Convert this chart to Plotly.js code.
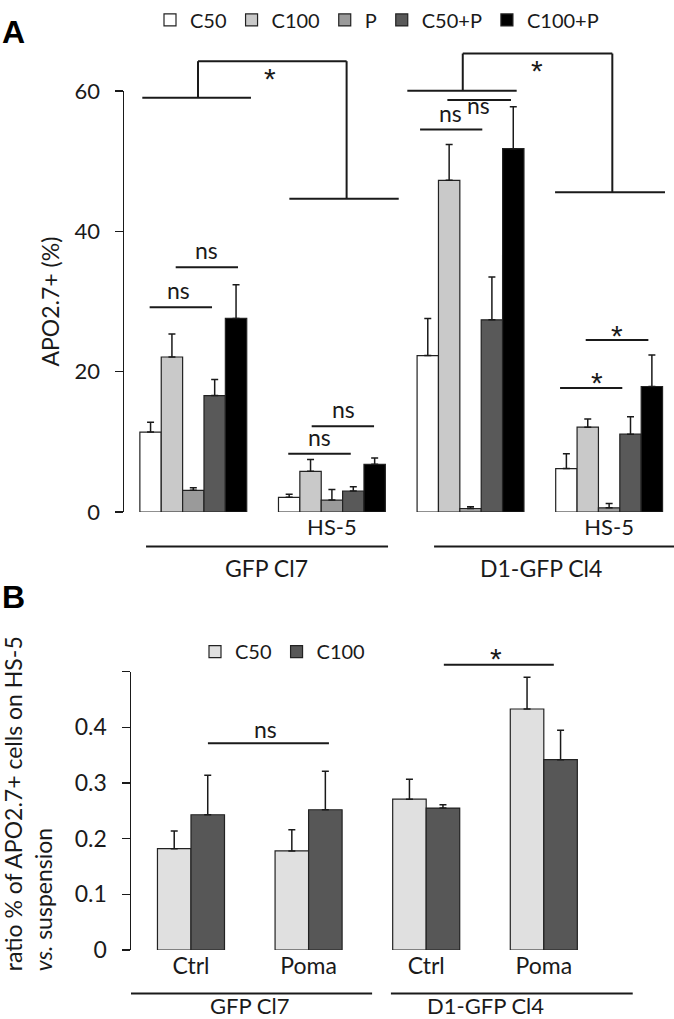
<!DOCTYPE html>
<html><head><meta charset="utf-8">
<script src="https://cdn.plot.ly/plotly-3.0.1.min.js"></script>
<style>html,body{margin:0;padding:0;background:#fff}#chart{width:674px;height:1019px}</style>
</head><body><div id="chart"></div>
<script>
// ---------- DATA: panel A (APO2.7+ %) ----------
const xA = [0, 1, 2, 3];
const tickTextA = ['', 'HS-5', '', 'HS-5'];
const namesA = ['C50', 'C100', 'P', 'C50+P', 'C100+P'];
const aC50      = [11.4, 2.1, 22.3, 6.2];
const aC50Err   = [1.4, 0.45, 5.3, 2.1];
const aC100     = [22.1, 5.8, 47.3, 12.1];
const aC100Err  = [3.3, 1.7, 5.1, 1.15];
const aP        = [3.1, 1.7, 0.5, 0.6];
const aPErr     = [0.35, 1.5, 0.25, 0.6];
const aC50P     = [16.6, 3.0, 27.4, 11.1];
const aC50PErr  = [2.3, 0.6, 6.1, 2.5];
const aC100P    = [27.6, 6.8, 51.8, 17.9];
const aC100PErr = [4.8, 0.9, 6.0, 4.5];
const yTicksA = [0, 20, 40, 60];

// ---------- DATA: panel B (ratio HS-5 vs suspension) ----------
const xB = [0, 1, 2, 3];
const tickTextB = ['Ctrl', 'Poma', 'Ctrl', 'Poma'];
const namesB = ['C50', 'C100'];
const bC50     = [0.182, 0.178, 0.271, 0.433];
const bC50Err  = [0.032, 0.038, 0.036, 0.057];
const bC100    = [0.243, 0.252, 0.255, 0.342];
const bC100Err = [0.071, 0.069, 0.006, 0.053];
const yTicksB = [0, 0.1, 0.2, 0.3, 0.4, 0.5];
const yTickTextB = ['0', '0.1', '0.2', '0.3', '0.4', ''];

const cellLines = ['GFP Cl7', 'D1-GFP Cl4'];

// ---------- STYLE ----------
const FONT = 'Lato, "Open Sans", sans-serif';
const STAR_FONT = '"Liberation Sans", Arial, sans-serif';
const INK = '#1a1a1a';
const colorsA = ['#ffffff', '#c9c9c9', '#9a9a9a', '#595959', '#000000'];
const colorsB = ['#e0e0e0', '#575757'];
const H = 1019, W = 674;
const A_DOM = [1 - 507 / H, 1 - 82 / H];
const B_DOM = [1 - 949.3 / H, 1 - 668.3 / H];
const A_MAX = 60, B_MAX = 0.5;
const pA = v => A_DOM[0] + v / A_MAX * (A_DOM[1] - A_DOM[0]);
const pB = v => B_DOM[0] + v / B_MAX * (B_DOM[1] - B_DOM[0]);
const pxY = px => 1 - px / H;

function errY(arr) {
  return {type: 'data', symmetric: false, array: arr, arrayminus: arr.map(() => 0),
          color: INK, thickness: 1.5, width: 3.5};
}

const seriesA = [aC50, aC100, aP, aC50P, aC100P];
const errsA = [aC50Err, aC100Err, aPErr, aC50PErr, aC100PErr];
const traces = [];
seriesA.forEach((vals, i) => {
  traces.push({
    type: 'bar', x: xA, y: vals, name: namesA[i], xaxis: 'x', yaxis: 'y',
    marker: {color: colorsA[i], line: {color: '#222', width: 1.2}},
    error_y: errY(errsA[i]), legend: 'legend'
  });
});
const seriesB = [bC50, bC100];
const errsB = [bC50Err, bC100Err];
const BW = 0.285;
seriesB.forEach((vals, i) => {
  traces.push({
    type: 'bar', x: xB, y: vals, name: namesB[i], xaxis: 'x2', yaxis: 'y2',
    width: BW, offset: -BW + i * BW,
    marker: {color: colorsB[i], line: {color: '#222', width: 1.2}},
    error_y: errY(errsB[i]), legend: 'legend2'
  });
});

// ---------- ANNOTATION GEOMETRY ----------
const LW = 2;
const shapes = [];
const annotations = [];
function hline(xref, x0, x1, y) {
  shapes.push({type: 'line', xref: xref, yref: 'paper', x0: x0, x1: x1, y0: y, y1: y,
               line: {color: INK, width: LW}});
}
function vline(xref, x, y0, y1) {
  shapes.push({type: 'line', xref: xref, yref: 'paper', x0: x, x1: x, y0: y0, y1: y1,
               line: {color: INK, width: LW}});
}
function label(xref, x, y, text, size) {
  const star = text === '*';
  annotations.push({xref: xref, yref: 'paper', x: x, y: y, text: text, showarrow: false,
                    xanchor: 'center', yanchor: 'middle',
                    font: {size: star ? 30 : (size || 23), color: INK, family: star ? STAR_FONT : FONT}});
}

// small comparison bars, panel A
const cmpA = [
  {x0: -0.315, x1: 0.135, y: 29.2, tx: -0.11, ty: 31.6, t: 'ns'},
  {x0: -0.127, x1: 0.3225, y: 34.9, tx: 0.097, ty: 37.3, t: 'ns'},
  {x0: 0.685, x1: 1.136, y: 8.3, tx: 0.907, ty: 10.7, t: 'ns'},
  {x0: 0.854, x1: 1.304, y: 12.24, tx: 1.082, ty: 14.7, t: 'ns'},
  {x0: 1.636, x1: 2.085, y: 54.54, tx: 1.852, ty: 56.9, t: 'ns'},
  {x0: 1.833, x1: 2.292, y: 58.73, tx: 2.061, ty: 58.0, t: 'ns'},
  {x0: 2.646, x1: 3.095, y: 17.69, tx: 2.911, ty: 18.4, t: '*'},
  {x0: 2.831, x1: 3.283, y: 24.52, tx: 3.059, ty: 25.1, t: '*'}
];
cmpA.forEach(c => { hline('x', c.x0, c.x1, pA(c.y)); label('x', c.tx, pA(c.ty), c.t); });

// big brackets, panel A
function bigBracket(lowL, stemL, top, stemR, lowR, star) {
  hline('x', lowL[0], lowL[1], pA(lowL[2]));
  vline('x', stemL, pA(lowL[2]), pA(top));
  hline('x', stemL, stemR, pA(top));
  vline('x', stemR, pA(top), pA(lowR[2]));
  hline('x', lowR[0], lowR[1], pA(lowR[2]));
  label('x', star[0], pA(star[1]), '*');
}
bigBracket([-0.368, 0.416, 59.06], 0.034, 64.28, 1.106, [0.693, 1.482, 44.66], [0.553, 61.75]);
bigBracket([1.544, 2.333, 60.05], 1.944, 65.37, 3.023, [2.61, 3.403, 45.6], [2.478, 63.0]);

// group underlines, panel A
hline('x', -0.341, 1.405, pxY(541.7));
hline('x', 1.737, 3.475, pxY(541.7));
label('x', 0.528, pxY(564), cellLines[0], 23);
label('x', 2.509, pxY(564), cellLines[1], 23);

// panel B comparisons
hline('x2', 0.144, 1.173, pB(0.3716));
label('x2', 0.635, pB(0.398), 'ns', 23);
hline('x2', 2.15, 3.085, pB(0.5125));
label('x2', 2.593, pB(0.524), '*');
hline('x2', -0.51, 1.54, pxY(993.3));
hline('x2', 1.70, 3.756, pxY(993.3));
label('x2', 0.497, pxY(1005), cellLines[0], 22);
label('x2', 2.50, pxY(1005), cellLines[1], 22);

// panel letters
annotations.push({xref: 'paper', yref: 'paper', x: 0, y: pxY(22), xanchor: 'left', yanchor: 'middle',
  text: '<b>A</b>', showarrow: false, font: {family: '"Liberation Sans", Arial, sans-serif', size: 32, color: '#000'}});
annotations.push({xref: 'paper', yref: 'paper', x: 0, y: pxY(593), xanchor: 'left', yanchor: 'middle',
  text: '<b>B</b>', showarrow: false, font: {family: '"Liberation Sans", Arial, sans-serif', size: 32, color: '#000'}});

// panel B y title (two left-aligned lines)
annotations.push({xref: 'paper', yref: 'paper', x: 28 / W, y: pxY(802), xanchor: 'center', yanchor: 'middle',
  textangle: -90, align: 'left', showarrow: false,
  text: 'ratio % of APO2.7+ cells on HS-5<br><i>vs.</i> suspension', font: {size: 23, color: INK}});

const axisCommon = {showgrid: false, zeroline: false, automargin: false, fixedrange: true,
                    tickfont: {size: 22, color: INK}};

const layout = {
  width: W, height: H, margin: {l: 0, r: 0, t: 0, b: 0},
  paper_bgcolor: '#ffffff', plot_bgcolor: 'rgba(0,0,0,0)',
  font: {family: FONT, size: 22, color: INK},
  barmode: 'group', bargap: 0.229, bargroupgap: 0,
  xaxis: Object.assign({}, axisCommon, {
    domain: [124 / W, 1], range: [-0.5, 3.468], anchor: 'y',
    tickmode: 'array', tickvals: xA, ticktext: tickTextA, ticks: '', showline: false
  }),
  yaxis: Object.assign({}, axisCommon, {
    domain: A_DOM, range: [0, A_MAX], anchor: 'x',
    tickmode: 'array', tickvals: yTicksA, ticks: 'outside', ticklen: 8, tickwidth: 1.5, tickcolor: INK,
    showline: true, linecolor: INK, linewidth: 1.5, ticklabelstandoff: 10,
    title: {text: 'APO2.7+ (%)', font: {size: 23, color: INK}, standoff: 8}
  }),
  xaxis2: Object.assign({}, axisCommon, {
    domain: [131 / W, 637.9 / W], range: [-0.51, 3.8], anchor: 'y2',
    tickmode: 'array', tickvals: xB, ticktext: tickTextB, ticks: '', showline: false,
    tickfont: {size: 23, color: INK}
  }),
  yaxis2: Object.assign({}, axisCommon, {
    domain: B_DOM, range: [0, B_MAX], anchor: 'x2',
    tickmode: 'array', tickvals: yTicksB, ticktext: yTickTextB, ticks: 'outside', ticklen: 8,
    tickwidth: 1.5, tickcolor: INK, showline: true, linecolor: INK, linewidth: 1.5,
    ticklabelstandoff: 10, tickfont: {size: 23, color: INK}
  }),
  legend: {orientation: 'h', x: 150 / W, xanchor: 'left', y: pxY(10), yanchor: 'middle',
           font: {size: 20, color: INK}, bgcolor: 'rgba(0,0,0,0)', itemwidth: 30, traceorder: 'normal'},
  legend2: {orientation: 'h', x: 195 / W, xanchor: 'left', y: pxY(648), yanchor: 'middle',
            font: {size: 20, color: INK}, bgcolor: 'rgba(0,0,0,0)', itemwidth: 30, traceorder: 'normal'},
  shapes: shapes,
  annotations: annotations
};

Plotly.newPlot('chart', traces, layout, {displayModeBar: false, staticPlot: true});
</script>
</body></html>
